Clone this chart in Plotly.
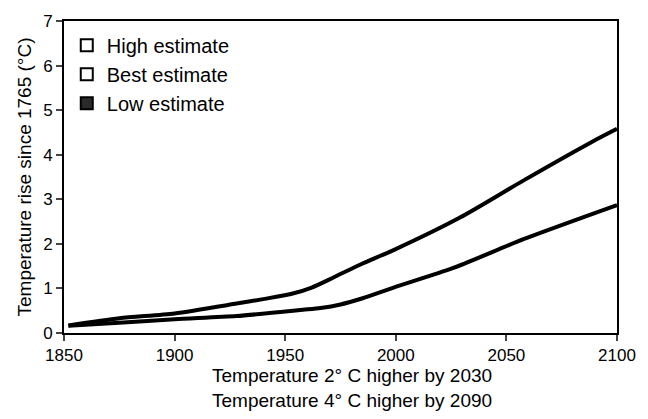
import plotly.graph_objects as go

# Upper curve (high estimate)
years_high = [1852, 1875, 1900, 1928, 1940, 1953, 1962, 1972, 1985, 1999, 2029, 2058, 2088, 2100]
temp_high = [0.17, 0.33, 0.44, 0.66, 0.76, 0.88, 1.02, 1.25, 1.56, 1.86, 2.59, 3.43, 4.27, 4.58]

# Lower curve (best estimate)
years_best = [1852, 1875, 1900, 1928, 1958, 1966, 1975, 1985, 1999, 2026, 2058, 2100]
temp_best = [0.16, 0.23, 0.31, 0.38, 0.52, 0.56, 0.64, 0.78, 1.02, 1.46, 2.11, 2.87]

legend_labels = ["High estimate", "Best estimate", "Low estimate"]
x_ticks = [1850, 1900, 1950, 2000, 2050, 2100]
y_ticks = [0, 1, 2, 3, 4, 5, 6, 7]
x_title_lines = ["Temperature 2° C higher by 2030", "Temperature 4° C higher by 2090"]
y_title = "Temperature rise since 1765 (°C)"

FONT = "Liberation Sans, Arial, Helvetica, sans-serif"

fig = go.Figure()
fig.add_trace(go.Scatter(x=years_high, y=temp_high, mode="lines",
                         line=dict(color="black", width=4, shape="spline", smoothing=0.7),
                         showlegend=False, name=legend_labels[0]))
fig.add_trace(go.Scatter(x=years_best, y=temp_best, mode="lines",
                         line=dict(color="black", width=4, shape="spline", smoothing=0.7),
                         showlegend=False, name=legend_labels[1]))

symbols = ["square-open", "square-open", "square"]
fills = ["black", "black", "#2a2a2a"]
for lab, sym, col in zip(legend_labels, symbols, fills):
    fig.add_trace(go.Scatter(x=[None], y=[None], mode="markers", name=lab,
                             marker=dict(symbol=sym, size=11, color=col,
                                         line=dict(color="black", width=2))))

fig.update_layout(
    width=648, height=419,
    margin=dict(l=64, r=21, t=14, b=86),
    paper_bgcolor="white", plot_bgcolor="white",
    font=dict(family=FONT, color="black", size=17),
    showlegend=True,
    legend=dict(x=0.005, y=0.985, xanchor="left", yanchor="top",
                bgcolor="rgba(0,0,0,0)", font=dict(size=20, family=FONT),
                tracegroupgap=0, itemsizing="constant"),
    annotations=[
        dict(text="<br>".join(x_title_lines), xref="paper", yref="paper", x=0.52, y=-0.176,
             xanchor="center", yanchor="middle", showarrow=False, font=dict(size=19)),
    ],
)
fig.update_xaxes(range=[1850, 2100], tickvals=x_ticks, ticks="outside", ticklen=6,
                 tickwidth=1.5, showline=True, linecolor="black", linewidth=2,
                 mirror=True, showgrid=False, zeroline=False,
                 tickfont=dict(size=17))
fig.update_yaxes(range=[0, 7], tickvals=y_ticks, ticks="outside", ticklen=6,
                 tickwidth=1.5, showline=True, linecolor="black", linewidth=2,
                 mirror=True, showgrid=False, zeroline=False,
                 tickfont=dict(size=17),
                 title=dict(text=y_title, font=dict(size=19), standoff=6))

fig.write_html("out.html")
